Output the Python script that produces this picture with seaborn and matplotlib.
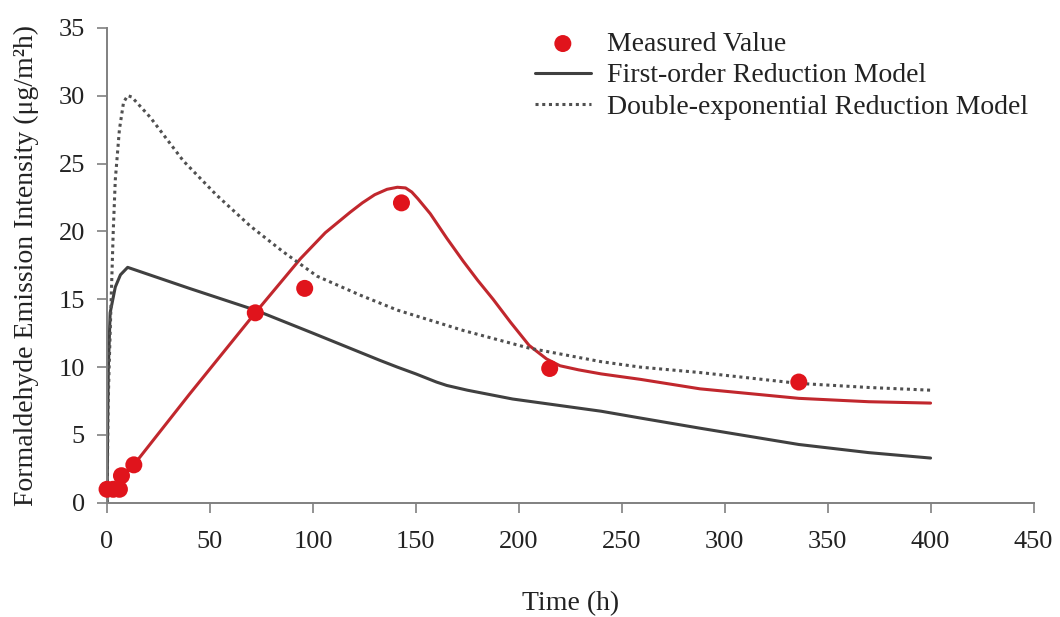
import numpy as np
import pandas as pd
import matplotlib
matplotlib.use("Agg")
import matplotlib.pyplot as plt
import seaborn as sns

# Measured values
meas_t = [0, 3, 6, 7, 13, 72, 96, 143, 215, 336]
meas_y = [1.0, 1.0, 1.0, 2.0, 2.8, 14.0, 15.8, 22.1, 9.9, 8.9]

# Fitted (red) curve through measured data
fit_t = [0, 3, 6, 8, 13, 40, 72, 94, 106, 118, 124, 130, 136, 141, 145, 148, 151, 157,
         165, 173, 180, 187.5, 196, 205, 213.5, 220, 229, 240, 259, 288, 336, 370, 400]
fit_y = [1.0, 1.0, 1.4, 2.0, 2.8, 8.0, 14.0, 18.0, 19.9, 21.4, 22.1, 22.7, 23.1, 23.25, 23.2, 22.9,
         22.4, 21.3, 19.5, 17.8, 16.4, 15.0, 13.3, 11.6, 10.6, 10.1, 9.8, 9.5, 9.1, 8.4, 7.7, 7.45, 7.35]

# First-order reduction model
first_t = [0, 0.3, 0.6, 1.5, 4, 6.5, 10, 40, 72, 100, 132.5, 141, 150, 160, 165, 175,
           197, 240, 259, 288, 336, 370, 400]
first_y = [0.0, 6.0, 9.8, 14.0, 15.9, 16.8, 17.35, 15.8, 14.2, 12.5, 10.5, 10.0, 9.5, 8.9, 8.65,
           8.3, 7.65, 6.75, 6.25, 5.5, 4.3, 3.7, 3.3]

# Double-exponential reduction model
double_t = [0, 0.5, 1, 2, 3, 4, 6, 8, 10, 12, 21, 37, 53, 69.5, 85.5, 102, 123,
            141, 173, 205, 240, 259, 288, 336, 370, 400]
double_y = [0.0, 7.0, 10.0, 15.0, 20.0, 23.8, 27.5, 29.5, 30.0, 29.9, 28.4, 25.2, 22.7, 20.4,
            18.5, 16.7, 15.3, 14.2, 12.7, 11.4, 10.4, 10.0, 9.6, 8.8, 8.5, 8.3]

x_ticks = [0, 50, 100, 150, 200, 250, 300, 350, 400, 450]
y_ticks = [0, 5, 10, 15, 20, 25, 30, 35]

sns.set_theme(style="white")
plt.rcParams['font.family'] = ['Liberation Serif', 'DejaVu Serif']

fig = plt.figure(figsize=(10.6, 6.17), dpi=100)
ax = fig.add_axes([0.101, 0.185, 0.874, 0.77])

fit_df = pd.DataFrame({"t": fit_t, "y": fit_y})
first_df = pd.DataFrame({"t": first_t, "y": first_y})
double_df = pd.DataFrame({"t": double_t, "y": double_y})
meas_df = pd.DataFrame({"t": meas_t, "y": meas_y})

sns.lineplot(data=fit_df, x="t", y="y", ax=ax, color="#c1272d", lw=2.2,
             sort=False, estimator=None, label="_nolegend_")
sns.lineplot(data=first_df, x="t", y="y", ax=ax, color="#404040", lw=2.2,
             sort=False, estimator=None, label="First-order Reduction Model")
sns.lineplot(data=double_df, x="t", y="y", ax=ax, color="#505050", lw=2.2,
             linestyle=(0, (1, 1.2)), sort=False, estimator=None,
             label="Double-exponential Reduction Model")
sns.scatterplot(data=meas_df, x="t", y="y", ax=ax, color="#e0141c", s=150,
                edgecolor="none", zorder=5, clip_on=False, label="Measured Value")

ax.set_xlim(0, 450)
ax.set_ylim(0, 35)
ax.set_xticks(x_ticks)
ax.set_yticks(y_ticks)
ax.tick_params(axis="both", which="both", direction="out", length=7, width=1.2,
               color="#808080", labelsize=19, left=True, bottom=True,
               labelcolor="#222222")
ax.tick_params(axis="x", pad=13)
ax.tick_params(axis="y", pad=9)
for side in ["top", "right"]:
    ax.spines[side].set_visible(False)
for side in ["left", "bottom"]:
    ax.spines[side].set_color("#808080")
    ax.spines[side].set_linewidth(1.4)

ax.set_xlabel("Time (h)", fontsize=20, color="#222222", labelpad=28)
ax.set_ylabel("Formaldehyde Emission Intensity (μg/m²h)", fontsize=20,
              color="#222222", labelpad=14)

handles, labels = ax.get_legend_handles_labels()
order = [labels.index("Measured Value"), labels.index("First-order Reduction Model"),
         labels.index("Double-exponential Reduction Model")]
ax.legend([handles[i] for i in order], [labels[i] for i in order],
          loc="upper left", bbox_to_anchor=(0.435, 1.045), frameon=False,
          fontsize=20, handlelength=2.0, handletextpad=0.6, labelspacing=0.22,
          labelcolor="#222222")

fig.savefig("out.png", dpi=100, facecolor="white")
